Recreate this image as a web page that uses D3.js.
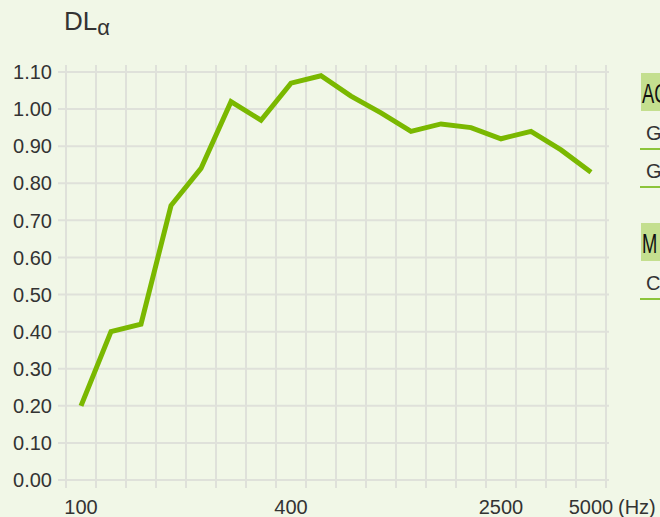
<!DOCTYPE html>
<html>
<head>
<meta charset="utf-8">
<script src="https://cdn.jsdelivr.net/npm/d3@7"></script>
<style>
  html, body { margin: 0; padding: 0; background: #f1f7e7; }
  svg { display: block; font-family: "Liberation Sans", Arial, sans-serif; }
</style>
</head>
<body>
<div id="chart-wrapper"></div>
<script>
// 1/3 octave bands (Hz)
const freqs = [100, 125, 160, 200, 250, 315, 400, 500, 630, 800, 1000, 1250, 1600, 2000, 2500, 3150, 4000, 5000];
const dlAlpha = [0.20, 0.40, 0.42, 0.74, 0.84, 1.02, 0.97, 1.07, 1.09, 1.035, 0.99, 0.94, 0.96, 0.95, 0.92, 0.94, 0.89, 0.83];
const yTicks = [0, 0.1, 0.2, 0.3, 0.4, 0.5, 0.6, 0.7, 0.8, 0.9, 1.0, 1.1];
const xTickValues = [100, 500, 2500, 5000];
const xTickLabels = ["100", "400", "2500", "5000"];
const legendGroups = [
    { title: "AC", items: ["G", "G"] },
    { title: "M", items: ["C"] }
];

const width = 660, height = 517;
const plot = { left: 66, right: 606, top: 72, bottom: 480 };
const green = "#7ab800";
const gridColor = "#dfe1da";
const textColor = "#333";

const svg = d3.select("#chart-wrapper")
    .append("svg")
    .attr("width", width)
    .attr("height", height);

const x = d3.scaleBand()
    .domain(freqs)
    .range([plot.left, plot.right])
    .padding(0);

const y = d3.scaleLinear()
    .domain([0, 1.1])
    .range([plot.bottom, plot.top]);

// grid
const grid = svg.append("g").attr("stroke", gridColor).attr("stroke-width", 2);
grid.selectAll("line.h")
    .data(yTicks)
    .join("line")
    .attr("class", "h")
    .attr("x1", plot.left - 8)
    .attr("x2", plot.right + 3)
    .attr("y1", d => y(d))
    .attr("y2", d => y(d));

const vLines = freqs.map(f => x(f)).concat([plot.right]);
grid.selectAll("line.v")
    .data(vLines)
    .join("line")
    .attr("class", "v")
    .attr("x1", d => d)
    .attr("x2", d => d)
    .attr("y1", plot.top - 7)
    .attr("y2", plot.bottom + 8);

// y labels
svg.append("g")
    .selectAll("text")
    .data(yTicks)
    .join("text")
    .attr("x", 52)
    .attr("y", d => y(d))
    .attr("dy", "0.36em")
    .attr("text-anchor", "end")
    .attr("font-size", 20)
    .attr("fill", textColor)
    .text(d => d3.format(".2f")(d));

// x labels
svg.append("g")
    .selectAll("text")
    .data(xTickValues)
    .join("text")
    .attr("x", d => x(d) + x.bandwidth() / 2)
    .attr("y", 514)
    .attr("text-anchor", "middle")
    .attr("font-size", 20)
    .attr("fill", textColor)
    .text((d, i) => xTickLabels[i]);

svg.append("text")
    .attr("x", 618)
    .attr("y", 514)
    .attr("font-size", 20)
    .attr("fill", textColor)
    .text("(Hz)");

// title
const title = svg.append("text")
    .attr("x", 64)
    .attr("y", 30)
    .attr("font-size", 26)
    .attr("fill", textColor)
    .text("DL");
title.append("tspan")
    .attr("font-size", 22)
    .attr("dy", 5)
    .text("α");

// line
const line = d3.line()
    .x((d, i) => x(freqs[i]) + x.bandwidth() / 2)
    .y(d => y(d));

svg.append("path")
    .datum(dlAlpha)
    .attr("fill", "none")
    .attr("stroke", green)
    .attr("stroke-width", 5)
    .attr("stroke-linejoin", "miter")
    .attr("d", line);

// legend (partly outside the frame)
const legend = svg.append("g");
let ly = 73;
legendGroups.forEach(g => {
    legend.append("rect")
        .attr("x", 641)
        .attr("y", ly)
        .attr("width", 60)
        .attr("height", 38)
        .attr("fill", "#c4df8f");
    legend.append("text")
        .attr("transform", `translate(642,${ly + 30}) scale(0.68,1)`)
        .attr("font-size", 27)
        .attr("fill", "#111")
        .text(g.title);
    ly += 38;
    g.items.forEach(item => {
        legend.append("text")
            .attr("x", 646)
            .attr("y", ly + 29)
            .attr("font-size", 20)
            .attr("fill", textColor)
            .text(item);
        legend.append("line")
            .attr("x1", 640)
            .attr("x2", 700)
            .attr("y1", ly + 38)
            .attr("y2", ly + 38)
            .attr("stroke", "#8cc43a")
            .attr("stroke-width", 2);
        ly += 38;
    });
    ly += 36;
});
</script>
</body>
</html>
